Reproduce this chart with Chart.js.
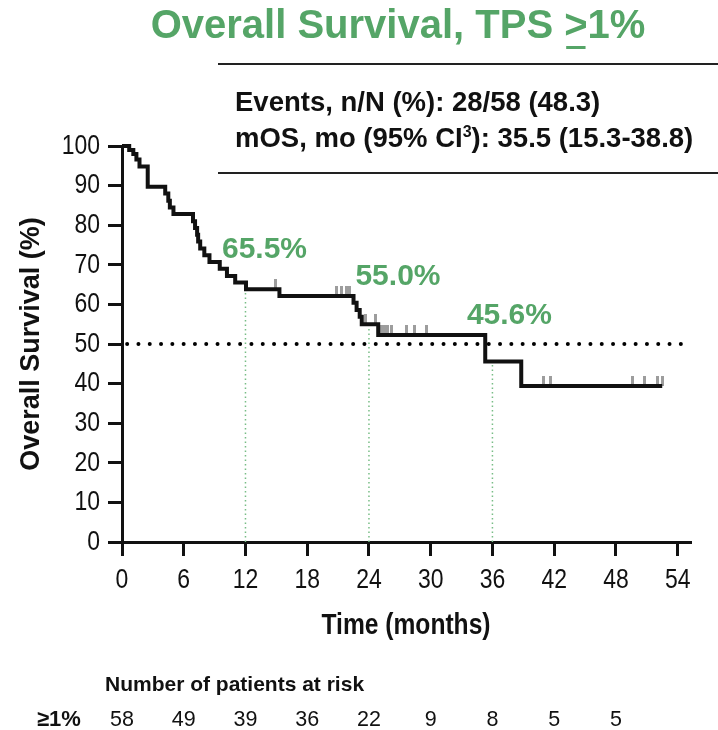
<!DOCTYPE html>
<html>
<head>
<meta charset="utf-8">
<script src="https://cdn.jsdelivr.net/npm/chart.js@4.4.0/dist/chart.umd.min.js"></script>
<style>
  html, body { margin: 0; padding: 0; background: #fff; }
</style>
</head>
<body>
<canvas id="km" width="718" height="730"></canvas>
<script>
// Kaplan-Meier steps: month of each step, survival (%) after it
const kmMonths   = [0, 0.7, 1.1, 1.4, 1.7, 2.5, 4.2, 4.5, 4.65, 5.0, 6.9, 7.1, 7.3, 7.4, 7.6, 8.0, 8.5, 9.5, 10.2, 11.0, 12.05, 15.3, 22.5, 22.8, 23.1, 23.3, 24.9, 35.3, 38.8, 52.5];
const kmSurvival = [100, 99.0, 98.0, 96.6, 94.8, 89.7, 88.0, 86.2, 84.5, 82.8, 81.0, 79.3, 77.6, 75.9, 74.1, 72.4, 70.7, 69.0, 67.2, 65.5, 63.8, 62.1, 60.4, 58.6, 56.9, 55.0, 52.3, 45.6, 39.4, 39.4];

// censored patients (tick marks)
const censorMonths   = [14.9, 20.8, 21.3, 21.8, 22.1, 23.7, 24.6, 25.2, 25.5, 25.8, 26.2, 27.6, 28.4, 29.6, 41.0, 41.6, 49.6, 50.8, 52.0, 52.5];
const censorSurvival = [63.8, 62.1, 62.1, 62.1, 62.1, 55.0, 55.0, 52.3, 52.3, 52.3, 52.3, 52.3, 52.3, 52.3, 39.4, 39.4, 39.4, 39.4, 39.4, 39.4];

// landmark estimates
const landmarkMonths   = [12, 24, 36];
const landmarkSurvival = [65.5, 55.0, 45.6];
const landmarkLabels   = ['65.5%', '55.0%', '45.6%'];

const medianLevel = 50;

const xTickValues = [0, 6, 12, 18, 24, 30, 36, 42, 48, 54];
const yTickValues = [0, 10, 20, 30, 40, 50, 60, 70, 80, 90, 100];

// number at risk
const riskMonths = [0, 6, 12, 18, 24, 30, 36, 42, 48];
const riskCounts = [58, 49, 39, 36, 22, 9, 8, 5, 5];

const statLines = ['Events, n/N (%): 28/58 (48.3)', 'mOS, mo (95% CI', '3', '): 35.5 (15.3-38.8)'];
const yTitle = 'Overall Survival (%)';

const GREEN = '#55a567';
const SANS = "'Liberation Sans', Arial, sans-serif";
const SQUEEZE = 0.82; // no narrow face installed, so squeeze the regular one

// small grey tick for censored patients, drawn above the line
const censorMark = document.createElement('canvas');
censorMark.width = 3;
censorMark.height = 20;
(function () {
  const c = censorMark.getContext('2d');
  c.fillStyle = '#9d9d9d';
  c.fillRect(0, 0, 3, 10);
})();

// tick labels and x title use a condensed look like the original
const narrowScales = {
  id: 'narrowScales',
  beforeDraw(chart) {
    const ctx = chart.ctx;
    const orig = CanvasRenderingContext2D.prototype.fillText;
    ctx.fillText = function (text, x, y) {
      if (text === yTitle) return orig.call(this, text, x, y);
      this.save();
      this.translate(x, y);
      this.scale(SQUEEZE, 1);
      orig.call(this, text, 0, 0);
      this.restore();
    };
  },
  beforeDatasetsDraw(chart) {
    delete chart.ctx.fillText;
  }
};

const decor = {
  id: 'decor',
  afterDraw(chart) {
    const ctx = chart.ctx;
    const xs = chart.scales.x;
    ctx.save();

    // title with underlined ">"
    ctx.fillStyle = GREEN;
    ctx.font = 'bold 40px ' + SANS;
    ctx.textAlign = 'left';
    ctx.textBaseline = 'alphabetic';
    const pre = 'Overall Survival, TPS ', ge = '>', post = '1%';
    const wPre = ctx.measureText(pre).width;
    const wGe = ctx.measureText(ge).width;
    const wPost = ctx.measureText(post).width;
    const tx = 398 - (wPre + wGe + wPost) / 2;
    ctx.fillText(pre, tx, 38);
    ctx.fillText(ge, tx + wPre, 38);
    ctx.fillText(post, tx + wPre + wGe, 38);
    ctx.fillRect(tx + wPre + 2, 46, wGe - 4, 3);

    // stats box
    ctx.strokeStyle = '#222';
    ctx.lineWidth = 2;
    ctx.beginPath();
    ctx.moveTo(218, 64); ctx.lineTo(718, 64);
    ctx.moveTo(218, 173); ctx.lineTo(718, 173);
    ctx.stroke();

    ctx.fillStyle = '#111';
    ctx.font = 'bold 27.5px ' + SANS;
    ctx.fillText(statLines[0], 235, 111);
    let sx = 235;
    ctx.fillText(statLines[1], sx, 147);
    sx += ctx.measureText(statLines[1]).width;
    ctx.font = 'bold 16px ' + SANS;
    ctx.fillText(statLines[2], sx, 137);
    sx += ctx.measureText(statLines[2]).width;
    ctx.font = 'bold 27.5px ' + SANS;
    ctx.fillText(statLines[3], sx, 147);

    // landmark labels
    const offs = [[19, 258], [29, 285], [17, 324]];
    ctx.fillStyle = GREEN;
    ctx.font = 'bold 30px ' + SANS;
    ctx.textAlign = 'center';
    landmarkLabels.forEach((t, i) => {
      ctx.fillText(t, xs.getPixelForValue(landmarkMonths[i]) + offs[i][0], offs[i][1]);
    });

    // number at risk table
    ctx.fillStyle = '#111';
    ctx.textAlign = 'left';
    ctx.font = 'bold 21px ' + SANS;
    ctx.fillText('Number of patients at risk', 105, 691);
    ctx.font = 'bold 22px ' + SANS;
    ctx.fillText('\u22651%', 37, 726);
    ctx.font = '21.5px ' + SANS;
    ctx.textAlign = 'center';
    riskCounts.forEach((n, i) => {
      ctx.fillText(String(n), xs.getPixelForValue(riskMonths[i]), 726);
    });

    ctx.restore();
  }
};

const pts = (xsArr, ysArr) => xsArr.map((v, i) => ({ x: v, y: ysArr[i] }));

const datasets = [
  {
    label: 'OS',
    data: pts(kmMonths, kmSurvival),
    stepped: true,
    borderColor: '#111',
    borderWidth: 4,
    pointRadius: 0,
    fill: false,
    clip: 4
  },
  {
    label: 'Censored',
    data: pts(censorMonths, censorSurvival),
    showLine: false,
    pointStyle: censorMark,
    pointRadius: 4,
    clip: 10
  },
  {
    label: 'Median',
    data: [{ x: 0.5, y: medianLevel }, { x: 54.4, y: medianLevel }],
    borderColor: '#000',
    borderWidth: 4,
    borderDash: [0, 11.3],
    borderCapStyle: 'round',
    pointRadius: 0
  }
];
landmarkMonths.forEach((m, i) => {
  datasets.push({
    label: 'Landmark ' + m,
    data: [{ x: m, y: 0 }, { x: m, y: landmarkSurvival[i] }],
    borderColor: '#78bd86',
    borderWidth: 1.5,
    borderDash: [1.5, 3],
    pointRadius: 0
  });
});

new Chart(document.getElementById('km'), {
  type: 'line',
  data: { datasets },
  options: {
    responsive: false,
    animation: false,
    devicePixelRatio: 1,
    layout: { padding: { top: 146, right: 28, bottom: 82, left: 11 } },
    plugins: { legend: { display: false }, tooltip: { enabled: false } },
    scales: {
      x: {
        type: 'linear',
        min: 0,
        max: 55.2,
        afterBuildTicks: s => { s.ticks = xTickValues.map(v => ({ value: v })); },
        afterFit: s => { s.height = 106; },
        ticks: { font: { family: SANS, size: 28 }, color: '#111', padding: 7, maxRotation: 0 },
        grid: { drawOnChartArea: false, tickLength: 14, tickWidth: 3, lineWidth: 3, tickColor: '#111' },
        border: { color: '#111', width: 3 },
        title: { display: true, text: 'Time (months)', color: '#111', font: { family: SANS, size: 30, weight: 'bold' }, padding: { top: 4, bottom: 4 } }
      },
      y: {
        type: 'linear',
        min: 0,
        max: 100,
        afterBuildTicks: s => { s.ticks = yTickValues.map(v => ({ value: v })); },
        afterFit: s => { s.width = 111; },
        ticks: { font: { family: SANS, size: 28 }, color: '#111', padding: 8 },
        grid: { drawOnChartArea: false, tickLength: 14, tickWidth: 3, lineWidth: 3, tickColor: '#111' },
        border: { color: '#111', width: 3 },
        title: { display: true, text: yTitle, color: '#111', font: { family: SANS, size: 27, weight: 'bold' }, padding: { top: 4, bottom: 4 } }
      }
    }
  },
  plugins: [narrowScales, decor]
});
</script>
</body>
</html>
